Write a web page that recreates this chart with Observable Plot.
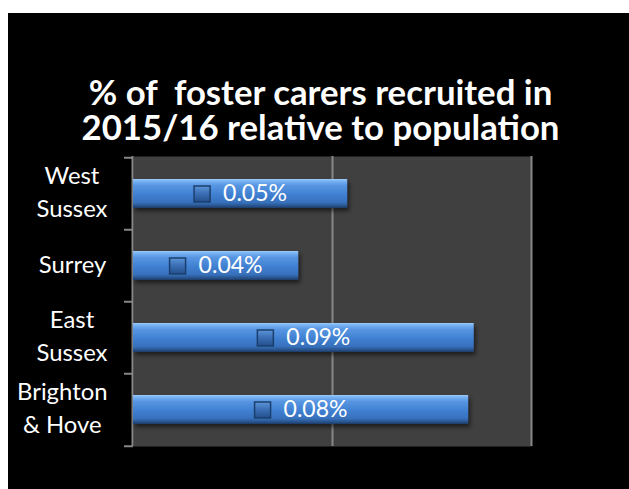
<!DOCTYPE html>
<html><head><meta charset="utf-8">
<script src="https://cdn.jsdelivr.net/npm/d3@7"></script>
<script src="https://cdn.jsdelivr.net/npm/@observablehq/plot@0.6"></script>
<style>
html,body{margin:0;padding:0;background:#fff;width:629px;height:489px;overflow:hidden;}
#card{position:absolute;left:8px;top:13px;width:621px;height:476px;background:#000;}
#title{position:absolute;left:6px;top:74px;width:629px;text-align:center;color:#fff;font-family:Lato,sans-serif;font-weight:bold;white-space:pre;line-height:35px;}
#chart{position:absolute;left:0;top:150px;}
</style></head>
<body>
<div id="card"></div>
<div id="title"></div>
<div id="chart"></div>
<script>
const titleLines = ["% of  foster carers recruited in", "2015/16 relative to population"];
const categories = ["West Sussex", "Surrey", "East Sussex", "Brighton & Hove"];
const axisLabels = ["West\nSussex", "Surrey", "East\nSussex", "Brighton\n& Hove"];
const values = [0.0538, 0.0415, 0.0856, 0.0842];
const gridTicks = [0.05, 0.1];
const xDomain = [0, 0.1];

const data = categories.map((c, i) => ({category: c, label: axisLabels[i], value: values[i]}));

const ctx = document.createElement("canvas").getContext("2d");
function textW(t, weight, size) { ctx.font = `${weight} ${size}px Lato`; return ctx.measureText(t).width; }
function fit(t, weight, target) { return 100 * target / textW(t, weight, 100); }

const titleSize = fit(titleLines[0], "bold", 465);
const title = document.getElementById("title");
title.style.fontSize = titleSize + "px";
title.textContent = titleLines.join("\n");

const catSize = fit("Sussex", "normal", 71);
const valSize = fit("0.05%", "normal", 64);

const W = 629, H = 339, mL = 133, mR = 98, mT = 6, mB = 43;
const step = (H - mT - mB) / categories.length;
const iconSide = 16, iconGap = 13;
const tw = textW("0.05%", "normal", valSize);
const groupW = iconSide + iconGap + tw;
const iconDx = -groupW / 2 + iconSide / 2;
const textDx = -groupW / 2 + iconSide + iconGap;

const labelMarks = data.map(d => {
  const w = Math.max(...d.label.split("\n").map(s => textW(s, "normal", catSize)));
  const center = Math.min(72, 107 - w / 2);
  return Plot.text([d], {y: "category", text: "label", frameAnchor: "left", textAnchor: "middle",
    dx: center - mL, dy: -4, fontSize: catSize, lineHeight: 33 / catSize, fill: "#fff"});
});

const axisColor = "#878787";
const plot = Plot.plot({
  width: W, height: H, marginLeft: mL, marginRight: mR, marginTop: mT, marginBottom: mB,
  style: {background: "transparent", fontFamily: "Lato, sans-serif", color: "#fff", overflow: "visible"},
  x: {domain: xDomain, axis: null},
  y: {domain: categories, paddingInner: 0.6, paddingOuter: 0.3, axis: null},
  marks: [
    Plot.frame({fill: "#404040", stroke: "none"}),
    Plot.ruleX(gridTicks, {stroke: axisColor, strokeWidth: 2}),
    Plot.ruleX([0], {stroke: axisColor, strokeWidth: 2, dx: -1}),
    Plot.ruleY(categories, {y: d => d, x1: 0, x2: 0, insetLeft: -9, stroke: axisColor, strokeWidth: 2, dy: -step / 2}),
    Plot.ruleY(categories.slice(-1), {y: d => d, x1: 0, x2: 0, insetLeft: -9, stroke: axisColor, strokeWidth: 2, dy: step / 2}),
    Plot.barX(data, {y: "category", x: "value", fill: "url(#barGrad)"}),
    Plot.dot(data, {y: "category", x: d => d.value / 2, symbol: "square", r: iconSide / Math.sqrt(Math.PI),
      fill: "url(#keyGrad)", stroke: "#1b3f6e", strokeWidth: 1.5, dx: iconDx}),
    Plot.text(data, {y: "category", x: d => d.value / 2, text: d => d.value.toFixed(2) + "%", textAnchor: "start",
      dx: textDx, fontSize: valSize, fill: "#fff"}),
    ...labelMarks
  ]
});

const svg = d3.select(plot);
svg.insert("defs", ":first-child").html(`
  <linearGradient id="barGrad" x1="0" y1="0" x2="0" y2="1">
    <stop offset="0" stop-color="#9fcbf8"/>
    <stop offset="0.07" stop-color="#78b2f2"/>
    <stop offset="0.22" stop-color="#5896e2"/>
    <stop offset="0.55" stop-color="#3f7fd0"/>
    <stop offset="0.8" stop-color="#3871be"/>
    <stop offset="0.9" stop-color="#2c5b98"/>
    <stop offset="1" stop-color="#1d3b66"/>
  </linearGradient>
  <linearGradient id="keyGrad" x1="0" y1="0" x2="0" y2="1">
    <stop offset="0" stop-color="#5d94d8"/>
    <stop offset="0.45" stop-color="#3c70b6"/>
    <stop offset="1" stop-color="#234f8a"/>
  </linearGradient>
  <filter id="shadow" x="-5%" y="-30%" width="115%" height="190%">
    <feDropShadow dx="2" dy="3" stdDeviation="2" flood-color="#000" flood-opacity="0.55"/>
  </filter>`);
svg.selectAll("g[aria-label='bar']").attr("filter", "url(#shadow)");
document.getElementById("chart").append(plot);
</script>
</body></html>
